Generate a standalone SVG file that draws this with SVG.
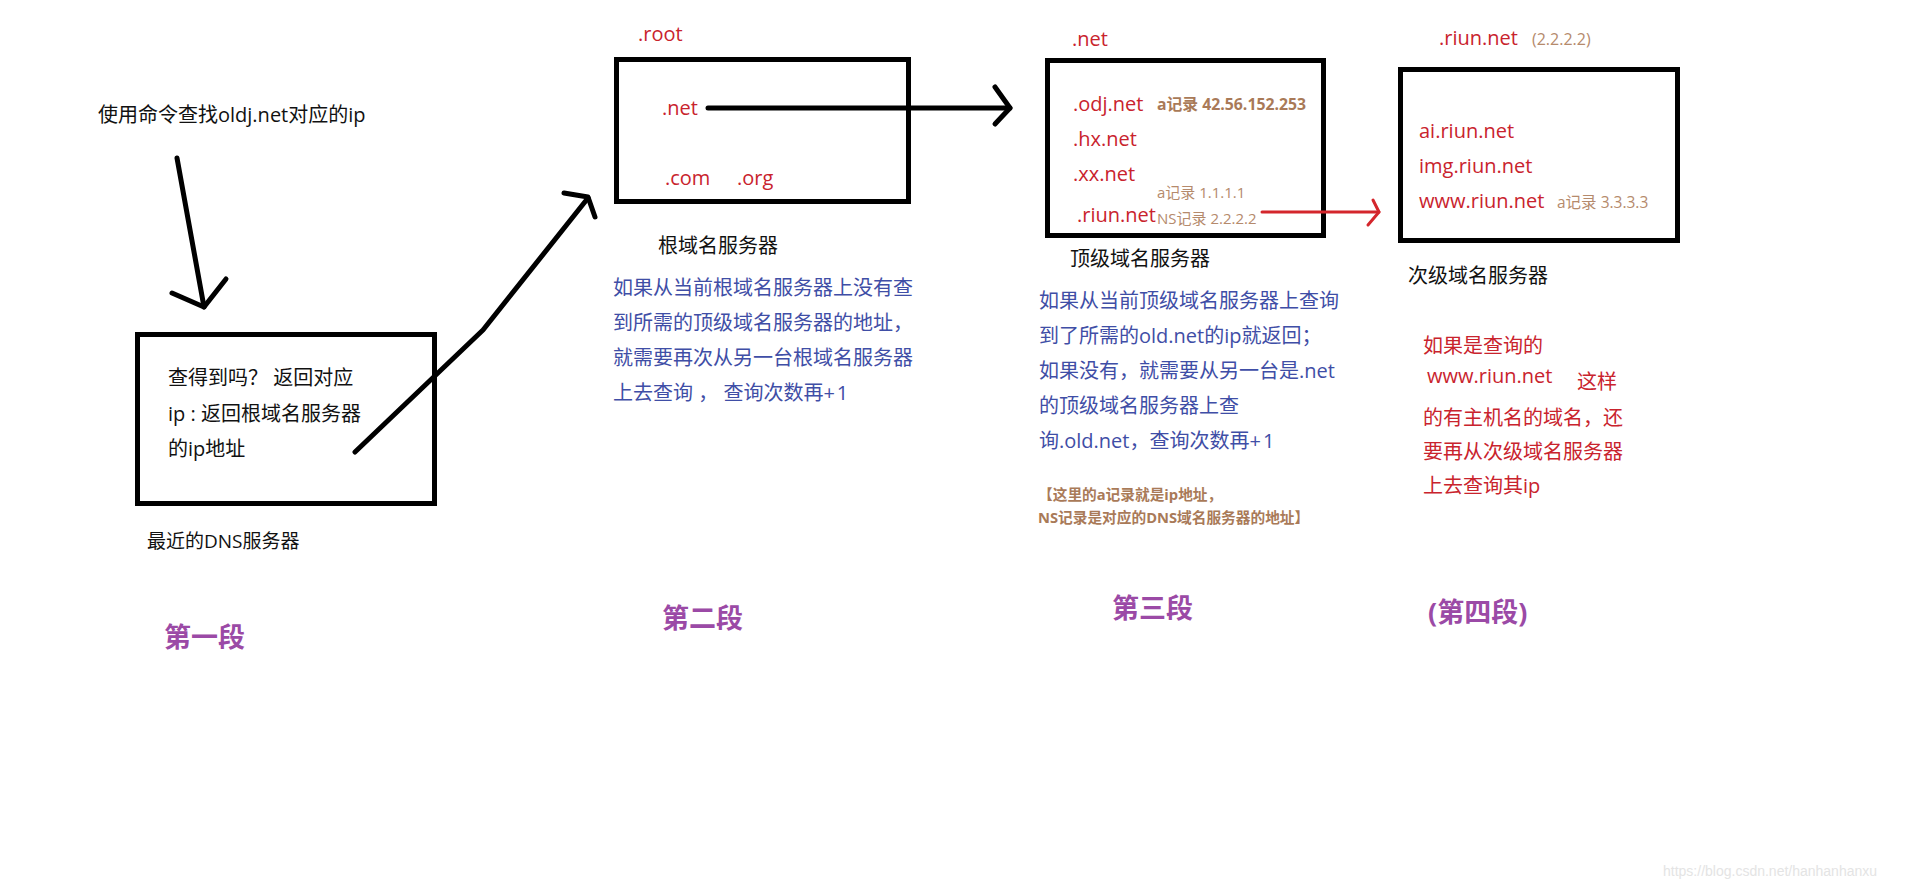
<svg xmlns="http://www.w3.org/2000/svg" width="1914" height="889" viewBox="0 0 1914 889">
<style>
text{font-family:"Open Sans","Noto Sans CJK SC",sans-serif;}
.box{fill:none;stroke:#000;stroke-width:5;}
.blk{fill:#111;font-size:20px;}
.red{fill:#c9232d;font-size:20px;}
.blue{fill:#3f4ea6;font-size:20px;}
.rec{fill:#b58a6c;font-size:15px;}
.recb{fill:#a97a58;font-size:14.7px;font-weight:bold;}
.stage{fill:#9b4aa6;font-size:27px;font-weight:bold;}
.conn{fill:none;stroke:#000;stroke-width:5;stroke-linecap:round;stroke-linejoin:round;}
.connr{fill:none;stroke:#d4262c;stroke-width:3;stroke-linecap:round;stroke-linejoin:round;}
.plus{letter-spacing:2px;}
</style>
<rect width="1914" height="889" fill="#fff"/>

<g id="query">
<text class="blk" x="98" y="122">使用命令查找oldj.net对应的ip</text>
</g>

<g id="local-dns">
<rect class="box" x="137.5" y="334.5" width="297" height="169"/>
<text class="blk" x="168" y="385" font-size="19">查得到吗？ 返回对应</text>
<text class="blk" x="168" y="421" font-size="19">ip : 返回根域名服务器</text>
<text class="blk" x="168" y="456" font-size="19">的ip地址</text>
<text class="blk" x="147" y="548" style="font-size:19px">最近的DNS服务器</text>
<text class="stage" x="164" y="647">第一段</text>
</g>

<g id="root-server">
<text class="red" x="638" y="41">.root</text>
<rect class="box" x="616.5" y="59.5" width="292" height="142"/>
<text class="red" x="662" y="115">.net</text>
<text class="red" x="665" y="185">.com</text>
<text class="red" x="737" y="185">.org</text>
<text class="blk" x="658" y="253">根域名服务器</text>
<text class="blue" x="613" y="295">如果从当前根域名服务器上没有查</text>
<text class="blue" x="613" y="330">到所需的顶级域名服务器的地址，</text>
<text class="blue" x="613" y="365">就需要再次从另一台根域名服务器</text>
<text class="blue" x="613" y="400">上去查询 ， 查询次数再<tspan class="plus">+1</tspan></text>
<text class="stage" x="662" y="628">第二段</text>
</g>

<g id="tld-server">
<text class="red" x="1072" y="46">.net</text>
<rect class="box" x="1047.5" y="60.5" width="276" height="175"/>
<text class="red" x="1073" y="111">.odj.net</text>
<text class="recb" x="1157" y="110" style="font-size:15.8px">a记录 42.56.152.253</text>
<text class="red" x="1073" y="146">.hx.net</text>
<text class="red" x="1073" y="181">.xx.net</text>
<text class="rec" x="1157" y="198">a记录 1.1.1.1</text>
<text class="red" x="1077" y="222">.riun.net</text>
<text class="rec" x="1157" y="224">NS记录 2.2.2.2</text>
<text class="blk" x="1070" y="266">顶级域名服务器</text>
<text class="blue" x="1039" y="308">如果从当前顶级域名服务器上查询</text>
<text class="blue" x="1039" y="343">到了所需的old.net的ip就返回；</text>
<text class="blue" x="1039" y="378">如果没有，就需要从另一台是.net</text>
<text class="blue" x="1039" y="413">的顶级域名服务器上查</text>
<text class="blue" x="1039" y="448">询.old.net，查询次数再<tspan class="plus">+1</tspan></text>
<text class="recb" x="1038" y="500">【这里的a记录就是ip地址，</text>
<text class="recb" x="1038" y="523">NS记录是对应的DNS域名服务器的地址】</text>
<text class="stage" x="1112" y="618">第三段</text>
</g>

<g id="second-level-server">
<text class="red" x="1439" y="45">.riun.net</text>
<text class="rec" x="1532" y="45" style="font-size:16px">(2.2.2.2)</text>
<rect class="box" x="1400.5" y="69.5" width="277" height="171"/>
<text class="red" x="1419" y="138">ai.riun.net</text>
<text class="red" x="1419" y="173">img.riun.net</text>
<text class="red" x="1419" y="208">www.riun.net</text>
<text class="rec" x="1557" y="208" style="font-size:15.5px">a记录 3.3.3.3</text>
<text class="blk" x="1408" y="283">次级域名服务器</text>
<text class="red" x="1423" y="353">如果是查询的</text>
<text class="red" x="1427" y="383">www.riun.net</text>
<text class="red" x="1577" y="389">这样</text>
<text class="red" x="1423" y="425">的有主机名的域名，还</text>
<text class="red" x="1423" y="459">要再从次级域名服务器</text>
<text class="red" x="1423" y="493">上去查询其ip</text>
<text class="stage" x="1428" y="622">(第四段)</text>
</g>

<g id="connectors">
<path class="conn" d="M177,158 L204,307"/>
<path class="conn" d="M172,293 L204,307 L226,279"/>
<path class="conn" d="M355,452 L483,330 L588,198"/>
<path class="conn" d="M564,193 L588,197 L595,217"/>
<path class="conn" d="M708,108 L1010,108"/>
<path class="conn" d="M995,87 L1010,108 L995,124"/>
<path class="connr" d="M1262,212 L1379,212"/>
<path class="connr" d="M1373,200 L1379,212 L1368,225"/>
</g>

<text x="1663" y="876" fill="#e4e4e4" style="font-family:'Liberation Sans',sans-serif;font-size:14px">https://blog.csdn.net/hanhanhanxu</text>
</svg>
